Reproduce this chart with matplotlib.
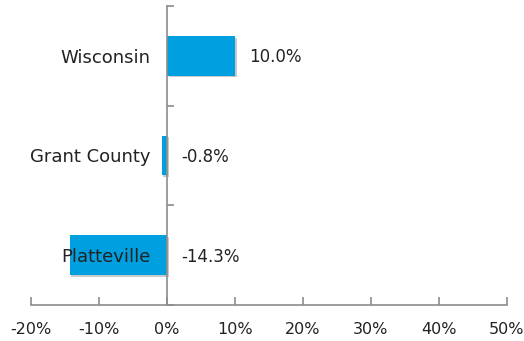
import matplotlib.pyplot as plt
import matplotlib.patheffects as pe
from matplotlib.ticker import FixedLocator

# Population change by place
places = ['Platteville', 'Grant County', 'Wisconsin']
change = [-14.3, -0.8, 10.0]
xticks = [-20, -10, 0, 10, 20, 30, 40, 50]

bar_color = '#009FDF'
axis_color = '#8C8C8C'

fig = plt.figure(figsize=(5.24, 3.41), dpi=100)
ax = fig.add_axes([31 / 524, 36 / 341, 476 / 524, 299 / 341])
ax.set_axisbelow(False)

ypos = range(len(places))
shadow = [pe.SimplePatchShadow(offset=(1.2, -1.2), shadow_rgbFace='#888888', alpha=0.45), pe.Normal()]
ax.barh(ypos, change, height=0.4, color=bar_color, path_effects=shadow, zorder=1)

ax.set_xlim(-20, 50)
ax.set_ylim(-0.5, 2.5)
ax.set_xticks(xticks)
ax.set_xticklabels([f'{t}%' for t in xticks])

ax.spines['top'].set_visible(False)
ax.spines['right'].set_visible(False)
ax.spines['left'].set_position(('data', 0))
for s in ('left', 'bottom'):
    ax.spines[s].set_color(axis_color)
    ax.spines[s].set_linewidth(1.2)

ax.set_yticks(list(ypos))
ax.set_yticklabels(places)
ax.yaxis.set_minor_locator(FixedLocator([-0.5, 0.5, 1.5, 2.5]))
ax.tick_params(axis='y', which='major', length=0, pad=12, labelsize=13, labelcolor='#222222')
ax.tick_params(axis='y', which='minor', direction='in', length=5, color=axis_color, width=1.2)
ax.tick_params(axis='x', direction='in', length=6, color=axis_color, width=1.2,
               pad=12, labelsize=11.5, labelcolor='#222222')

# data labels: right of bar end for positives, right of the axis for negatives
for y, v in zip(ypos, change):
    x = max(v, 0)
    ax.annotate(f'{v:.1f}%', (x, y), xytext=(10, -1), textcoords='offset points',
                ha='left', va='center', fontsize=12, color='#222222')

fig.savefig('out.png', dpi=100)
